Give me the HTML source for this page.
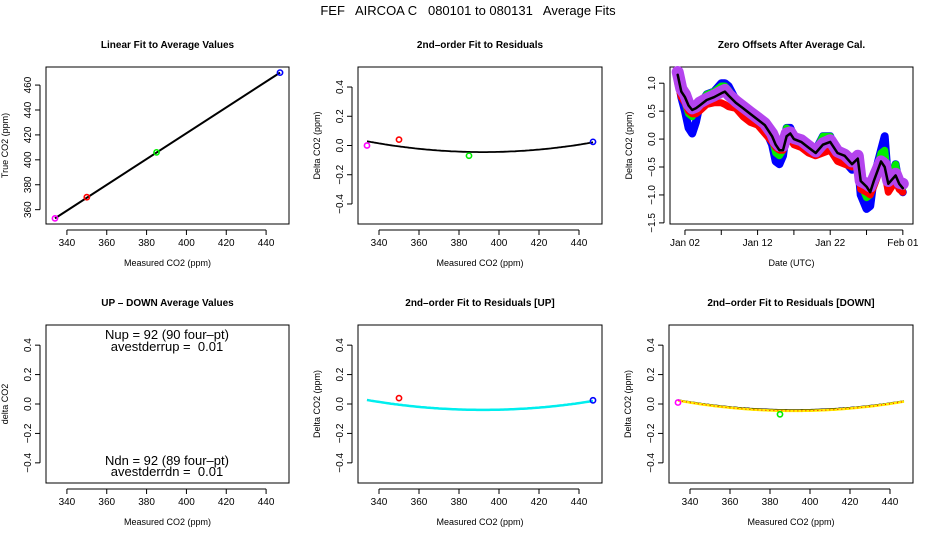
<!DOCTYPE html>
<html><head><meta charset="utf-8"><style>
html,body{margin:0;padding:0;background:#fff;}
svg{display:block;font-family:"Liberation Sans",sans-serif;}
text{white-space:pre;}
</style></head><body>
<svg id="c" width="936" height="540" viewBox="0 0 936 540" xmlns="http://www.w3.org/2000/svg">
<text x="468" y="15" text-anchor="middle" font-size="13" xml:space="preserve">FEF   AIRCOA C   080101 to 080131   Average Fits</text>
</svg>
<script>
// ---- data ----
const calX = [334, 350, 385, 447];
const calTrue = [353, 370, 406, 470];
const calColors = ['#ff00ff', '#ff0000', '#00ee00', '#0000ff'];
const linFit = [353, 470]; // true CO2 at x=334 and x=447
const resid = [0.0, 0.04, -0.07, 0.025];
const fitCoef = [-0.045, 392, 2.2e-5]; // min value, vertex x, curvature
const upX = [350, 447];
const upResid = [0.04, 0.025];
const upCoef = [-0.04, 392, 2.0e-5];
const dnX = [334, 385];
const dnResid = [0.01, -0.07];
const dnCoef = [-0.047, 392, 2.1e-5];
const xTicks = [340, 360, 380, 400, 420, 440];
const yTicksLin = [360, 380, 400, 420, 440, 460];
const yTicksRes = [-0.4, -0.2, 0.0, 0.2, 0.4];
const yTickLabelsRes = ['\u22120.4', '\u22120.2', '0.0', '0.2', '0.4'];
// zero offsets time series (days since Jan 01)
const tDays = [0,0.5,1,1.5,2,2.5,3,4,5,6,6.5,7,8,9,10,11,12,13,13.5,14,14.5,15,15.5,16,17,18,19,20,21,22,23,24,24.8,25.2,26,26.5,27,28,28.5,29,30,30.5,31];
const blueOff = [1.15,0.75,0.5,0.2,0.1,0.3,0.6,0.8,0.85,1.0,1.0,0.95,0.7,0.55,0.45,0.3,0.2,-0.1,-0.4,-0.45,-0.3,0.2,0.2,0.05,0,-0.2,-0.2,0.05,0.05,-0.3,-0.4,-0.55,-0.4,-1.0,-1.25,-1.2,-0.7,-0.2,0.05,-0.8,-0.45,-0.85,-0.95];
const greenOff = [1.15,0.8,0.65,0.45,0.4,0.5,0.65,0.8,0.85,0.95,0.95,0.88,0.7,0.6,0.48,0.35,0.25,0,-0.25,-0.3,-0.2,0.2,0.15,0.05,0,-0.15,-0.2,0.05,0.05,-0.25,-0.35,-0.5,-0.3,-0.8,-1.05,-1.0,-0.75,-0.25,-0.2,-0.75,-0.45,-0.8,-0.88];
const redOff = [1.0,0.75,0.65,0.5,0.45,0.45,0.5,0.62,0.65,0.65,0.62,0.58,0.55,0.4,0.3,0.25,0.1,-0.05,-0.15,-0.2,-0.2,-0.05,0,-0.1,-0.15,-0.25,-0.3,-0.25,-0.2,-0.4,-0.45,-0.5,-0.45,-0.9,-0.95,-1.0,-0.85,-0.5,-0.6,-0.95,-0.75,-0.9,-0.95];
const magOff = [1.2,0.9,0.8,0.62,0.55,0.58,0.65,0.72,0.78,0.85,0.88,0.8,0.68,0.58,0.48,0.38,0.28,0.1,-0.05,-0.12,-0.12,0.1,0.12,0.02,-0.02,-0.12,-0.22,-0.08,-0.02,-0.22,-0.28,-0.4,-0.3,-0.75,-0.8,-0.85,-0.7,-0.4,-0.45,-0.75,-0.62,-0.78,-0.8];
const meanOff = [1.15,0.85,0.75,0.6,0.52,0.55,0.6,0.7,0.75,0.82,0.85,0.78,0.65,0.55,0.45,0.35,0.25,0.05,-0.1,-0.2,-0.2,0.05,0.1,0.0,-0.05,-0.15,-0.25,-0.1,-0.05,-0.25,-0.3,-0.45,-0.35,-0.75,-0.85,-0.95,-0.75,-0.4,-0.5,-0.8,-0.65,-0.8,-0.88];
const dateTicks = [1, 6, 11, 16, 21, 26, 31];
const dateLabels = ['Jan 02', '', 'Jan 12', '', 'Jan 22', '', 'Feb 01'];
const yTicksZero = [-1.5, -1.0, -0.5, 0.0, 0.5, 1.0];
const yTickLabelsZero = ['\u22121.5', '\u22121.0', '\u22120.5', '0.0', '0.5', '1.0'];

const NS = 'http://www.w3.org/2000/svg';
const svg = document.getElementById('c');
function mk(tag, attrs, parent) {
  const e = document.createElementNS(NS, tag);
  for (const k in attrs) e.setAttribute(k, attrs[k]);
  (parent || svg).appendChild(e);
  return e;
}
function scale(d0, d1, r0, r1) { return v => r0 + (v - d0) / (d1 - d0) * (r1 - r0); }

function panel(name, box, xd, yd, title, xlab, ylab, xt, xtl, yt, ytl) {
  const g = mk('g', {});
  
  
  const sx = scale(xd[0], xd[1], box.l, box.r);
  const sy = scale(yd[0], yd[1], box.b, box.t);
  const fr = mk('rect', {x: box.l, y: box.t, width: box.r - box.l, height: box.b - box.t, fill: 'none', stroke: '#000', 'stroke-width': 1}, g);
  
  
  const tt = mk('text', {x: (box.l + box.r) / 2, y: box.t - 19, 'text-anchor': 'middle', 'font-size': 10, 'font-weight': 'bold'}, g);
  tt.textContent = title;
  
  
  const xl = mk('text', {x: (box.l + box.r) / 2, y: box.b + 42, 'text-anchor': 'middle', 'font-size': 9}, g);
  xl.textContent = xlab;
  
  
  const cy = (box.t + box.b) / 2;
  const yl = mk('text', {x: box.l - 38, y: cy, 'text-anchor': 'middle', 'font-size': 9, transform: `rotate(-90 ${box.l - 38} ${cy})`}, g);
  yl.textContent = ylab;
  
  
  const xa = mk('line', {x1: sx(xt[0]), x2: sx(xt[xt.length - 1]), y1: box.b + 6, y2: box.b + 6, stroke: '#000'}, g);
  
  
  xt.forEach((v, i) => {
    mk('line', {x1: sx(v), x2: sx(v), y1: box.b + 6, y2: box.b + 11, stroke: '#000'}, g);
    const t = mk('text', {x: sx(v), y: box.b + 22, 'text-anchor': 'middle', 'font-size': 10}, g);
    t.textContent = xtl[i];
    
    
  });
  const ya = mk('line', {x1: box.l - 6, x2: box.l - 6, y1: sy(yt[0]), y2: sy(yt[yt.length - 1]), stroke: '#000'}, g);
  
  
  yt.forEach((v, i) => {
    mk('line', {x1: box.l - 11, x2: box.l - 6, y1: sy(v), y2: sy(v), stroke: '#000'}, g);
    const x = box.l - 15, y = sy(v);
    const t = mk('text', {x: x, y: y, 'text-anchor': 'middle', 'font-size': 10, transform: `rotate(-90 ${x} ${y})`}, g);
    t.textContent = ytl[i];
    
    
  });
  return {g, sx, sy, box};
}
function pt(p, x, y, col, name) {
  const c = mk('circle', {cx: p.sx(x), cy: p.sy(y), r: 2.6, fill: 'none', stroke: col, 'stroke-width': 1.6}, p.g);
  
  
}
function curve(p, coef, x0, x1, col, w, name, dash) {
  let d = '';
  for (let x = x0; x <= x1 + 0.01; x += 1) {
    const y = coef[0] + coef[2] * (x - coef[1]) * (x - coef[1]);
    d += (d ? 'L' : 'M') + p.sx(x).toFixed(1) + ',' + p.sy(y).toFixed(1);
  }
  const e = mk('path', {d: d, fill: 'none', stroke: col, 'stroke-width': w}, p.g);
  if (dash) e.setAttribute('stroke-dasharray', dash);
  
  
}
const xD = [329.5, 451.5];
const resD = [-0.537, 0.537];
const xtl = xTicks.map(String);

// Panel 1
const p1 = panel('linear-fit-panel', {l: 46, r: 289, t: 67, b: 224}, xD, [348.5, 474.5], 'Linear Fit to Average Values', 'Measured CO2 (ppm)', 'True CO2 (ppm)', xTicks, xtl, yTicksLin, yTicksLin.map(String));
const lf = mk('line', {x1: p1.sx(calX[0]), y1: p1.sy(linFit[0]), x2: p1.sx(calX[3]), y2: p1.sy(linFit[1]), stroke: '#000', 'stroke-width': 2}, p1.g);


calX.forEach((x, i) => pt(p1, x, calTrue[i], calColors[i], 'cal-point'));

// Panel 2
const p2 = panel('residual-fit-panel', {l: 358, r: 602, t: 67, b: 224}, xD, resD, '2nd\u2013order Fit to Residuals', 'Measured CO2 (ppm)', 'Delta CO2 (ppm)', xTicks, xtl, yTicksRes, yTickLabelsRes);
curve(p2, fitCoef, 334, 447, '#000', 1.8, 'residual-fit-curve');
calX.forEach((x, i) => pt(p2, x, resid[i], calColors[i], 'residual-point'));

// Panel 3
const p3 = panel('zero-offsets-panel', {l: 670, r: 913, t: 67, b: 224}, [-1.06, 32.4], [-1.52, 1.29], 'Zero Offsets After Average Cal.', 'Date (UTC)', 'Delta CO2 (ppm)', dateTicks, dateLabels, yTicksZero, yTickLabelsZero);
function series(p, ys, col, w, name) {
  const d = tDays.map((t, i) => (i ? 'L' : 'M') + p.sx(t).toFixed(1) + ',' + p.sy(ys[i]).toFixed(1)).join('');
  const e = mk('path', {d: d, fill: 'none', stroke: col, 'stroke-width': w, 'stroke-linejoin': 'round', 'stroke-linecap': 'round'}, p.g);
  
  
}
series(p3, blueOff, '#0000ff', 8, 'blue-offset-series');
series(p3, greenOff, '#00ee00', 7, 'green-offset-series');
series(p3, redOff, '#ff0000', 7, 'red-offset-series');
series(p3, magOff, '#b444ee', 12, 'magenta-offset-series');
series(p3, meanOff, '#000000', 2.5, 'mean-offset-line');

// Panel 4
const p4 = panel('up-down-panel', {l: 46, r: 289, t: 325, b: 483}, xD, resD, 'UP \u2013 DOWN Average Values', 'Measured CO2 (ppm)', 'delta CO2', xTicks, xtl, yTicksRes, yTickLabelsRes);
[['Nup = 92 (90 four\u2013pt)', 339, 'nup-text'], ['avestderrup =  0.01', 351, 'avestderrup-text'], ['Ndn = 92 (89 four\u2013pt)', 465, 'ndn-text'], ['avestderrdn =  0.01', 476, 'avestderrdn-text']].forEach(a => {
  const t = mk('text', {x: 167, y: a[1], 'text-anchor': 'middle', 'font-size': 13}, p4.g);
  t.textContent = a[0];
  
  
});

// Panel 5
const p5 = panel('residual-up-panel', {l: 358, r: 602, t: 325, b: 483}, xD, resD, '2nd\u2013order Fit to Residuals [UP]', 'Measured CO2 (ppm)', 'Delta CO2 (ppm)', xTicks, xtl, yTicksRes, yTickLabelsRes);
curve(p5, upCoef, 334, 447, '#000', 1.5, 'fit-curve-black');
curve(p5, upCoef, 334, 447, '#00eeee', 2.5, 'fit-curve-up');
upX.forEach((x, i) => pt(p5, x, upResid[i], i ? '#0000ff' : '#ff0000', 'residual-up-point'));

// Panel 6
const p6 = panel('residual-down-panel', {l: 669, r: 913, t: 325, b: 483}, xD, resD, '2nd\u2013order Fit to Residuals [DOWN]', 'Measured CO2 (ppm)', 'Delta CO2 (ppm)', xTicks, xtl, yTicksRes, yTickLabelsRes);
curve(p6, upCoef, 334, 447, '#000', 1.5, 'fit-curve-black');
curve(p6, dnCoef, 334, 447, '#ffee00', 2.5, 'fit-curve-down');
curve(p6, dnCoef, 334, 447, '#ff0000', 1, 'fit-curve-down-dots', '1,3');
dnX.forEach((x, i) => pt(p6, x, dnResid[i], i ? '#00ee00' : '#ff00ff', 'residual-down-point'));
</script>
</body></html>
